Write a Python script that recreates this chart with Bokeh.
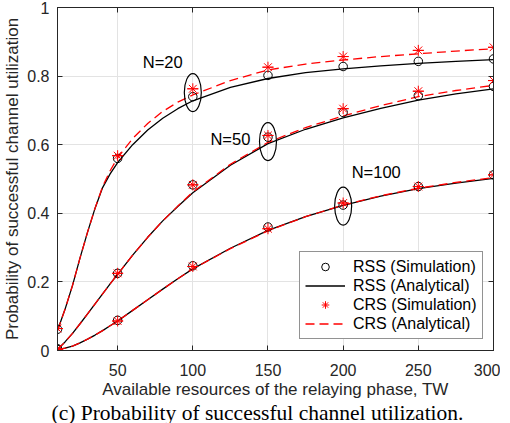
from bokeh.plotting import figure
from bokeh.models import (LinearAxis, FixedTicker, NumeralTickFormatter, Legend,
                          LegendItem, Title, Range1d)
from bokeh.core.properties import value
from bokeh.embed import file_html
from bokeh.resources import INLINE

# ---------------- data ----------------
sim_x = [10, 50, 100, 150, 200, 250, 300]
rss20_sim = [0.062, 0.560, 0.740, 0.802, 0.828, 0.843, 0.850]
crs20_sim = [0.064, 0.568, 0.763, 0.826, 0.857, 0.875, 0.884]
rss50_sim = [0.005, 0.225, 0.483, 0.622, 0.694, 0.743, 0.770]
crs50_sim = [0.005, 0.225, 0.483, 0.627, 0.705, 0.756, 0.787]
rss100_sim = [0.003, 0.088, 0.247, 0.360, 0.424, 0.478, 0.512]
crs100_sim = [0.003, 0.086, 0.245, 0.355, 0.430, 0.478, 0.512]

ana_x = [10, 15, 20, 25, 30, 35, 40, 45, 50, 60, 70, 80, 90, 100,
         125, 150, 175, 200, 225, 250, 275, 300]
rss20_ana = [0.058, 0.12, 0.19, 0.27, 0.345, 0.415, 0.475, 0.515, 0.548, 0.600, 0.643,
             0.677, 0.705, 0.728, 0.767, 0.793, 0.810, 0.821, 0.830, 0.837, 0.843, 0.848]
crs20_ana = [0.058, 0.12, 0.19, 0.27, 0.345, 0.415, 0.478, 0.524, 0.562, 0.618, 0.662,
             0.697, 0.724, 0.745, 0.787, 0.818, 0.835, 0.847, 0.857, 0.865, 0.873, 0.880]
rss50_ana = [0.003, 0.025, 0.050, 0.078, 0.107, 0.136, 0.165, 0.194, 0.222, 0.278, 0.330,
             0.378, 0.420, 0.460, 0.540, 0.603, 0.645, 0.678, 0.706, 0.730, 0.748, 0.763]
crs50_ana = [0.003, 0.025, 0.050, 0.078, 0.107, 0.136, 0.165, 0.194, 0.222, 0.278, 0.330,
             0.378, 0.421, 0.462, 0.543, 0.607, 0.650, 0.684, 0.714, 0.740, 0.758, 0.773]
rss100_ana = [0.002, 0.007, 0.013, 0.022, 0.033, 0.045, 0.058, 0.072, 0.086, 0.117, 0.148,
              0.179, 0.209, 0.238, 0.298, 0.350, 0.390, 0.423, 0.450, 0.472, 0.488, 0.502]
crs100_ana = [0.002, 0.007, 0.013, 0.022, 0.033, 0.045, 0.058, 0.072, 0.086, 0.117, 0.148,
              0.179, 0.209, 0.238, 0.297, 0.349, 0.390, 0.424, 0.451, 0.473, 0.490, 0.504]

group_labels = ["N=20", "N=50", "N=100"]
label_x = [80, 125, 222]
label_y = [0.84, 0.618, 0.52]
ellipse_x = [100, 150, 200]
ellipse_y = [0.752, 0.609, 0.421]

x_ticks = [50, 100, 150, 200, 250, 300]
y_ticks = [0, 0.2, 0.4, 0.6, 0.8, 1]
caption = "(c) Probability of successful channel utilization."

FONT = "Liberation Sans"
AX = "#262626"

p = figure(frame_width=436, frame_height=343, x_range=Range1d(10, 300), y_range=Range1d(0, 1),
           output_backend="svg", toolbar_location=None,
           min_border_left=52, min_border_right=7, min_border_top=7, min_border_bottom=73)
p.background_fill_color = "white"
p.outline_line_color = AX
p.outline_line_width = 1

for ax in (p.xaxis[0], p.yaxis[0]):
    ax.major_tick_in = 5
    ax.major_tick_out = 0
    ax.minor_tick_line_color = None
    ax.axis_line_color = AX
    ax.major_tick_line_color = AX
    ax.major_label_text_font = FONT
    ax.major_label_text_font_size = "16px"
    ax.major_label_text_color = AX
    ax.axis_label_text_font = FONT
    ax.axis_label_text_font_size = "17px"
    ax.axis_label_text_font_style = "normal"
    ax.axis_label_text_color = AX

p.xaxis.ticker = FixedTicker(ticks=x_ticks)
p.yaxis.ticker = FixedTicker(ticks=y_ticks)
p.yaxis.formatter = NumeralTickFormatter(format="0.[0]")
p.xaxis.axis_label = "Available resources of the relaying phase, TW"
p.yaxis.axis_label = "Probability of successful channel utilization"
p.xaxis.major_label_standoff = 13
p.yaxis.major_label_standoff = 8
p.xaxis.axis_label_standoff = 1
p.yaxis.axis_label_standoff = 2

for loc, tk in (("right", y_ticks), ("above", x_ticks)):
    a = LinearAxis(ticker=FixedTicker(ticks=tk), major_tick_in=5, major_tick_out=0,
                   minor_tick_line_color=None, axis_line_color=AX, major_tick_line_color=AX,
                   major_label_text_font_size="0px", major_label_text_color=None,
                   major_label_standoff=0)
    p.add_layout(a, loc)

p.xgrid.grid_line_color = "#e3e3e3"
p.ygrid.grid_line_color = "#e3e3e3"
p.xgrid.ticker = FixedTicker(ticks=x_ticks)
p.ygrid.ticker = FixedTicker(ticks=y_ticks)

black_lines = []
for ys in (rss20_ana, rss50_ana, rss100_ana):
    black_lines.append(p.line(ana_x, ys, line_color="black", line_width=1.3))
red_lines = []
for ys in (crs20_ana, crs50_ana, crs100_ana):
    red_lines.append(p.line(ana_x, ys, line_color="#ff0000", line_width=1.3, line_dash="9 5"))
circ = []
for ys in (rss20_sim, rss50_sim, rss100_sim):
    circ.append(p.scatter(sim_x, ys, marker="circle", size=8.5, fill_color=None,
                          line_color="black", line_width=1))
stars = []
for ys in (crs20_sim, crs50_sim, crs100_sim):
    stars.append(p.scatter(sim_x, ys, marker="asterisk", size=11, line_color="#ff0000",
                           line_width=1))
    p.scatter(sim_x, ys, marker="dash", size=11, line_color="#ff0000", line_width=1)

p.ellipse(x=ellipse_x, y=ellipse_y, width=17, height=38, width_units="screen",
          height_units="screen", fill_color=None, line_color="black", line_width=1.2)
p.text(x=label_x, y=label_y, text=group_labels, text_font=value(FONT), text_font_size="16.5px",
       text_align="center", text_baseline="middle", text_color="black")

legend = Legend(items=[
    LegendItem(label="RSS (Simulation)", renderers=[circ[0]]),
    LegendItem(label="RSS (Analytical)", renderers=[black_lines[0]]),
    LegendItem(label="CRS (Simulation)", renderers=[stars[0]]),
    LegendItem(label="CRS (Analytical)", renderers=[red_lines[0]]),
], location=(242, 11))
legend.label_text_font = FONT
legend.label_text_font_size = "16px"
legend.label_text_color = "black"
legend.glyph_width = 40
legend.glyph_height = 19
legend.label_height = 19
legend.label_standoff = 8
legend.spacing = 0
legend.padding = 5
legend.margin = 0
legend.border_line_color = AX
legend.border_line_width = 1
legend.background_fill_alpha = 1
p.add_layout(legend, "center")

cap = Title(text=caption, align="left", offset=-6, standoff=-6,
            text_font="Liberation Serif", text_font_size="21.5px",
            text_font_style="normal", text_color="black")
p.add_layout(cap, "below")

open("out.html", "w").write(file_html(p, INLINE))
